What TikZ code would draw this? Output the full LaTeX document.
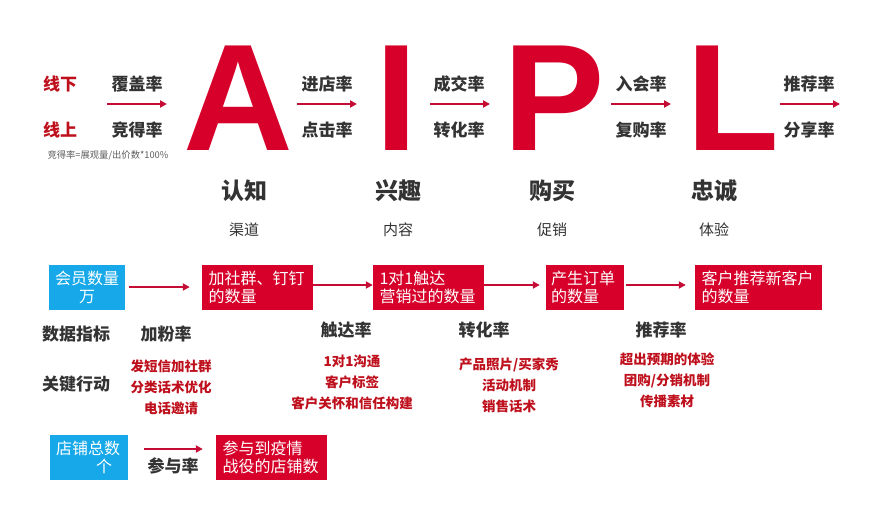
\documentclass[tikz,border=0pt]{standalone}
\usepackage{fontspec}
\setmainfont{Noto Sans CJK SC}
\newfontfamily\bigletter{Liberation Sans}
\usetikzlibrary{arrows.meta}
\definecolor{boxred}{RGB}{214,0,42}
\definecolor{txtred}{RGB}{190,16,28}
\definecolor{arrred}{RGB}{196,12,52}
\definecolor{boxblue}{RGB}{22,168,232}
\definecolor{dark}{RGB}{51,51,51}
\tikzset{
  lbl/.style={font=\fontsize{17}{17}\selectfont\bfseries, text=dark, inner sep=0pt},
  side/.style={font=\fontsize{17}{17}\selectfont\bfseries, text=txtred, inner sep=0pt},
  stage/.style={font=\fontsize{23}{23}\selectfont\bfseries, text=dark, inner sep=0pt},
  sub/.style={font=\fontsize{15}{15}\selectfont, text=dark, inner sep=0pt},
  act/.style={font=\fontsize{13.5}{21}\selectfont\bfseries, text=txtred, align=center, inner sep=0pt},
  big/.style={font=\bigletter\bfseries\fontsize{152}{152}\selectfont, text=boxred, inner sep=0pt, anchor=base},
  redbox/.style={fill=boxred, text=white, font=\fontsize{16}{18.5}\selectfont, align=left, inner sep=0pt, text width=#1, minimum height=45pt},
  bluebox/.style={fill=boxblue, text=white, font=\fontsize{16}{18.5}\selectfont, align=center, inner sep=0pt, text width=#1, minimum height=45pt},
  arr/.style={draw=arrred, line width=1.8pt, -{Triangle[length=7pt,width=7pt]}},
}
\begin{document}
\begin{tikzpicture}[x=1pt,y=-1pt]
\useasboundingbox (0,0) rectangle (891,532);
% top row
\node[side] (xx) at (60,84) {线下};
\node[side] (xs) at (60,130) {线上};
\node[lbl] (fg) at (137,84) {覆盖率};
\node[lbl] (jd) at (137,130) {竞得率};
\node[font=\fontsize{9.3}{9.3}\selectfont, text=dark!80, inner sep=0pt] (fm) at (108,155) {竞得率=展观量/出价数*100\%};
\coordinate (a1s) at (107,104); \coordinate (a1e) at (167,104);
\draw[arr] (a1s) -- (a1e);
\node[big] (A) at (238,150) {A};
\node[lbl] (jdl) at (327,84) {进店率};
\node[lbl] (djl) at (327,130) {点击率};
\coordinate (a2s) at (297,104); \coordinate (a2e) at (357,104);
\draw[arr] (a2s) -- (a2e);
\node[big] (I) at (397,150) {I};
\node[lbl] (cjl) at (459,84) {成交率};
\node[lbl] (zhl) at (459,130) {转化率};
\coordinate (a3s) at (430,104); \coordinate (a3e) at (490,104);
\draw[arr] (a3s) -- (a3e);
\node[big] (P) at (554,150) {P};
\node[lbl] (rhl) at (641,84) {入会率};
\node[lbl] (fgl) at (641,130) {复购率};
\coordinate (a4s) at (611,104); \coordinate (a4e) at (671,104);
\draw[arr] (a4s) -- (a4e);
\node[big] (L) at (733,150) {L};
\node[lbl] (tjl) at (809,84) {推荐率};
\node[lbl] (fxl) at (809,130) {分享率};
\coordinate (a5s) at (780,104); \coordinate (a5e) at (840,104);
\draw[arr] (a5s) -- (a5e);
% stages
\node[stage] (rz) at (244,191) {认知};
\node[stage] (xq) at (398,191) {兴趣};
\node[stage] (gm) at (552,191) {购买};
\node[stage] (zc) at (714,191) {忠诚};
\node[sub] (qd) at (244,230) {渠道};
\node[sub] (nr) at (398,230) {内容};
\node[sub] (cx) at (552,230) {促销};
\node[sub] (ty) at (714,230) {体验};
% box row
\node[bluebox=76pt] (b0) at (87,287.5) {会员数量\\万};
\node[redbox=106pt, minimum width=111pt] (r1) at (257.5,287.5) {\hspace*{4pt}加社群、钉钉\\\hspace*{4pt}的数量};
\node[redbox=106pt, minimum width=111pt] (r2) at (428.5,287.5) {\hspace*{4pt}1对1触达\\\hspace*{4pt}营销过的数量};
\node[redbox=76pt, minimum width=78pt] (r3) at (585,287.5) {\hspace*{4pt}产生订单\\\hspace*{4pt}的数量};
\node[redbox=122pt, minimum width=127pt] (r4) at (758.5,287.5) {\hspace*{4pt}客户推荐新客户\\\hspace*{4pt}的数量};
\draw[arr, shorten <=4pt, shorten >=12pt] (b0.east |- 0,287) -- (r1.west |- 0,287);
\draw[arr] (r1.east |- 0,285) -- (r2.west |- 0,285);
\draw[arr, shorten >=6pt] (r2.east |- 0,285) -- (r3.west |- 0,285);
\draw[arr, shorten <=2pt, shorten >=9pt] (r3.east |- 0,285) -- (r4.west |- 0,285);
% metrics
\node[lbl] (sjzb) at (76,334) {数据指标};
\node[lbl] (jfl) at (166,334) {加粉率};
\node[lbl] (cdl) at (346,330) {触达率};
\node[lbl] (zhl2) at (484,330) {转化率};
\node[lbl] (tjl2) at (661,330) {推荐率};
\node[lbl] (gjxd) at (76,384) {关键行动};
\node[act] (c1) at (171,387) {发短信加社群\\分类话术优化\\电话邀请};
\node[act] (c2) at (352,382) {1对1沟通\\客户标签\\客户关怀和信任构建};
\node[act] (c3) at (509,385) {产品照片/买家秀\\活动机制\\销售话术};
\node[act] (c4) at (667,380) {超出预期的体验\\团购/分销机制\\传播素材};
% bottom row
\node[bluebox=78pt, text width=78pt, align=left] (b1) at (89,457.5) {\hspace*{6pt}店铺总数\\\hspace*{46pt}个};
\node[redbox=106pt, minimum width=111pt] (r5) at (271.5,457.5) {\hspace*{4pt}参与到疫情\\\hspace*{4pt}战役的店铺数};
\draw[arr, shorten <=16pt, shorten >=13pt] (b1.east |- 0,449) -- (r5.west |- 0,449);
\node[lbl] (cyl) at (173,466) {参与率};
\end{tikzpicture}
\end{document}
